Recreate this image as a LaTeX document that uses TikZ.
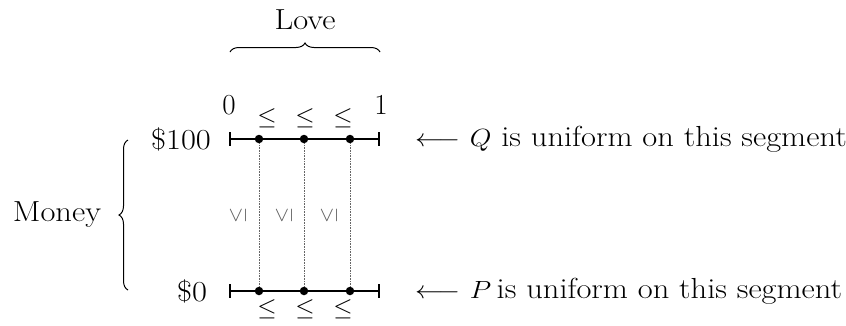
\documentclass[tikz,border=0pt]{standalone}
\usetikzlibrary{decorations.pathreplacing}
\begin{document}
\begin{tikzpicture}[x=1pt,y=-1pt,
  txt/.style={font=\fontsize{29}{34}\selectfont, inner sep=0pt},
  wide/.style={xscale=1.12, transform shape},
  small/.style={font=\fontsize{25}{30}\selectfont, inner sep=0pt},
  vrel/.style={font=\fontsize{21}{25}\selectfont, inner sep=0pt, text=black!65},
  seg/.style={line width=2pt},
  dotl/.style={densely dotted, line width=0.6pt, black!60},
  pt/.style={circle, fill=black, inner sep=0pt, minimum size=8.5pt},
  brc/.style={decorate, decoration={brace, amplitude=9pt}, line width=1pt}]
\useasboundingbox (0,0) rectangle (846,325);
\coordinate (tl) at (230,139);
\coordinate (tr) at (379,139);
\coordinate (bl) at (230,291);
\coordinate (br) at (379,291);
\draw[seg] (tl) -- (tr);
\draw[seg] (230,132) -- (230,146);
\draw[seg] (379,132) -- (379,146);
\draw[seg] (bl) -- (br);
\draw[seg] (230,284) -- (230,298);
\draw[seg] (379,284) -- (379,298);
\node[pt] (t1) at (259,139) {};
\node[pt] (t2) at (304,139) {};
\node[pt] (t3) at (350,139) {};
\node[pt] (b1) at (259,291) {};
\node[pt] (b2) at (304,291) {};
\node[pt] (b3) at (350,291) {};
\draw[dotl] (t1) -- (b1);
\draw[dotl] (t2) -- (b2);
\draw[dotl] (t3) -- (b3);
\node[txt] (zero) at (229,105) {0};
\node[txt] (one) at (381,105) {1};
\foreach \x/\n in {267/a,305/b,343/c}{
  \node[small] (u\n) at (\x,118) {$\leq$};
  \node[small] (d\n) at (\x,309) {$\leq$};
}
\foreach \x/\n in {238/a,284/b,329/c}{
  \node[vrel] (v\n) at (\x,215) {\rotatebox{90}{$\leq$}};
}
\node[txt, wide] (m100) at (181,139) {\$100};
\node[txt, wide] (m0) at (192,291) {\$0};
\node[txt, wide, anchor=west] (qt) at (415,139) {$\longleftarrow$ $Q$ is uniform on this segment};
\node[txt, wide, anchor=west] (pt) at (415,291) {$\longleftarrow$ $P$\,is uniform on this segment};
\coordinate (lb1) at (230,52);
\coordinate (lb2) at (380,52);
\draw[brc] (lb1) -- (lb2);
\node[txt, wide] (love) at (305,20) {Love};
\coordinate (mb1) at (128,290);
\coordinate (mb2) at (128,140);
\draw[brc] (mb1) -- (mb2);
\node[txt, wide] (money) at (57,215) {Money};
\end{tikzpicture}
\end{document}
